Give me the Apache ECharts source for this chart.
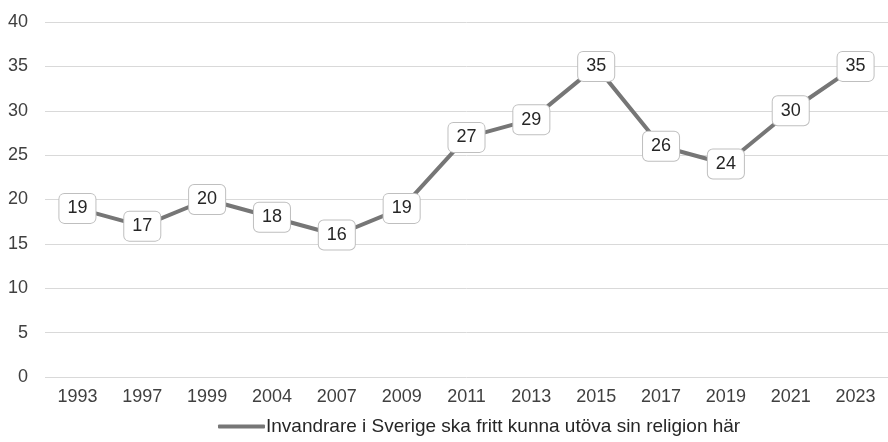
<!DOCTYPE html>
<html>
<head>
<meta charset="utf-8">
<script src="https://cdn.jsdelivr.net/npm/echarts@6/dist/echarts.min.js"></script>
<style>
  html, body { margin: 0; padding: 0; background: #fff; }
  #chart { width: 888px; height: 442px; }
</style>
</head>
<body>
<div id="chart"></div>
<script>
// Invandrare - religion
var years = ['1993','1997','1999','2004','2007','2009','2011','2013','2015','2017','2019','2021','2023'];
var values = [19, 17, 20, 18, 16, 19, 27, 29, 35, 26, 24, 30, 35];
var seriesName = 'Invandrare i Sverige ska fritt kunna utöva sin religion här';

var chart = echarts.init(document.getElementById('chart'));
chart.setOption({
    animation: false,
    textStyle: { fontFamily: 'Liberation Sans' },
    color: ['#767676'],
    grid: { left: 45, right: -10, top: 22, bottom: 65 },
    legend: {
        bottom: 1,
        left: 213,
        data: [seriesName],
        itemWidth: 47,
        itemHeight: 4,
        itemGap: 0,
        icon: 'roundRect',
        itemStyle: { color: '#767676', opacity: 1 },
        textStyle: { fontSize: 19, color: '#262626', padding: [0, 0, 0, -4] }
    },
    xAxis: {
        type: 'category',
        data: years,
        axisLine: { show: false },
        axisTick: { show: false },
        axisLabel: { fontSize: 18, color: '#404040', margin: 11 }
    },
    yAxis: {
        type: 'value',
        min: 0,
        max: 40,
        interval: 5,
        axisLabel: { fontSize: 18, color: '#404040', margin: 17 },
        splitLine: { lineStyle: { color: '#d9d9d9', width: 1 } }
    },
    series: [
        {
            name: seriesName,
            type: 'line',
            data: values,
            symbol: 'circle',
            symbolSize: 0,
            showAllSymbol: true,
            lineStyle: { width: 4, color: '#767676' },
            label: {
                show: true,
                position: 'inside',
                fontSize: 18,
                color: '#262626',
                backgroundColor: '#fff',
                borderColor: '#bfbfbf',
                borderWidth: 1,
                borderRadius: 5,
                padding: [6, 8, 5, 8]
            }
        }
    ]
});
</script>
</body>
</html>
